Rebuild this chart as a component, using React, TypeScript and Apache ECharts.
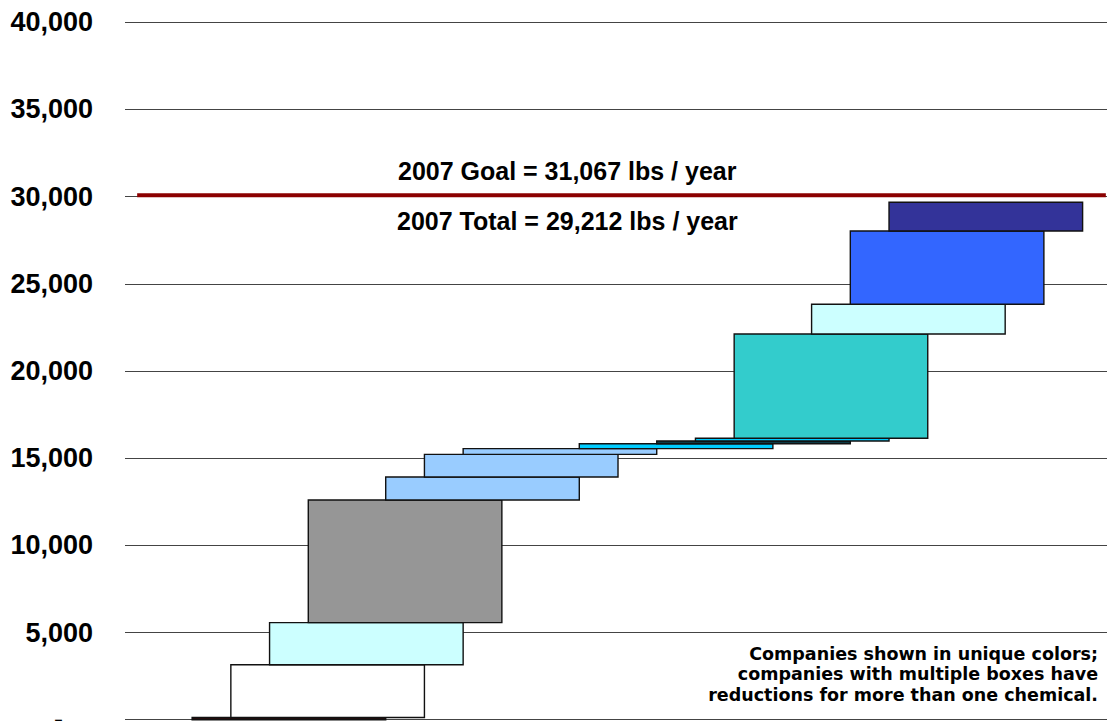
import React, { useEffect, useRef } from "react";
import * as echarts from "echarts";

// slot index (horizontal position step) of each box, its cumulative top value and fill colour
const boxSlots = [0, 1, 2, 3, 5, 6, 7, 10, 12, 13, 14, 16, 17, 18];
const boxTops = [125, 3155, 5565, 12600, 13920, 15220, 15545, 15830, 15985, 16140, 22120, 23830, 28030, 29680];
const boxColors = [
  "#2a0b0b", "#ffffff", "#ccffff", "#969696", "#99ccff", "#99ccff", "#99ccff",
  "#00ccff", "#0d3a44", "#00ccff", "#33cccc", "#ccffff", "#3366ff", "#333399",
];
const BOX_SPAN = 5; // each box spans five slots
const goalLineValue = 30080;
const goalLineX = [-1.42, 23.6];
const yTicks = { min: 0, max: 40000, interval: 5000 };
const goalText = "2007 Goal = 31,067 lbs / year";
const totalText = "2007 Total = 29,212 lbs / year";
const noteText = "Companies shown in unique colors;\ncompanies with multiple boxes have\nreductions for more than one chemical.";

export default function App() {
  const ref = useRef<HTMLDivElement>(null);
  useEffect(() => {
    if (!ref.current) return;
    const chart = echarts.init(ref.current, undefined, { renderer: "svg" });
    const boxData = boxSlots.map((s, i) => [s, i === 0 ? 0 : boxTops[i - 1], boxTops[i], i]);
    chart.setOption({
      animation: false,
      backgroundColor: "#ffffff",
      grid: { left: 125, right: 0, top: 22.3, bottom: 1.3, containLabel: false, outerBoundsMode: "none" },
      xAxis: { type: "value", min: -1.734, max: 23.63, show: false },
      yAxis: {
        type: "value",
        min: yTicks.min,
        max: yTicks.max,
        interval: yTicks.interval,
        axisLine: { show: false },
        axisTick: { show: false },
        splitLine: { lineStyle: { color: "#444444", width: 1 } },
        axisLabel: {
          margin: 32,
          color: "#000",
          fontSize: 27,
          fontWeight: "bold",
          fontFamily: "Liberation Sans, Arial, sans-serif",
          formatter: (v: number) => (v === 0 ? "{z|-}" : v.toLocaleString("en-US")),
          rich: {
            z: {
              fontSize: 27,
              fontWeight: "bold",
              fontFamily: "Liberation Sans, Arial, sans-serif",
              color: "#000",
              padding: [0, 30, 0, 0],
            },
          },
        },
      },
      series: [
        {
          type: "custom",
          data: boxData,
          encode: { x: 0, y: [1, 2] },
          renderItem: (params: any, api: any) => {
            const x0 = api.value(0);
            const lo = api.value(1);
            const hi = api.value(2);
            const idx = api.value(3);
            const p0 = api.coord([x0, hi]);
            const p1 = api.coord([x0 + BOX_SPAN, lo]);
            return {
              type: "rect",
              shape: { x: p0[0], y: p0[1], width: p1[0] - p0[0], height: p1[1] - p0[1] },
              style: { fill: boxColors[idx], stroke: "#111111", lineWidth: 1.4 },
            };
          },
          z: 2,
        },
        {
          type: "line",
          data: [
            [goalLineX[0], goalLineValue],
            [goalLineX[1], goalLineValue],
          ],
          symbol: "none",
          lineStyle: { color: "#8b0000", width: 4 },
          z: 3,
        },
      ],
      graphic: [
        {
          type: "text",
          x: 398,
          y: 171,
          style: {
            text: goalText,
            fill: "#000",
            align: "left",
            verticalAlign: "middle",
            fontSize: 25,
            fontWeight: "bold",
            fontFamily: "Liberation Sans",
          },
        },
        {
          type: "text",
          x: 397,
          y: 221,
          style: {
            text: totalText,
            fill: "#000",
            align: "left",
            verticalAlign: "middle",
            fontSize: 25,
            fontWeight: "bold",
            fontFamily: "Liberation Sans",
          },
        },
        {
          type: "text",
          x: 1098,
          y: 674,
          style: {
            text: noteText,
            fill: "#000",
            align: "right",
            verticalAlign: "middle",
            lineHeight: 20.5,
            fontSize: 17.5,
            fontWeight: "bold",
            fontFamily: "DejaVu Sans",
          },
        },
      ],
    });
    return () => chart.dispose();
  }, []);
  return (
    <div
      ref={ref}
      style={{ position: "fixed", left: 0, top: 0, width: 1107, height: 721, background: "#fff" }}
    />
  );
}
